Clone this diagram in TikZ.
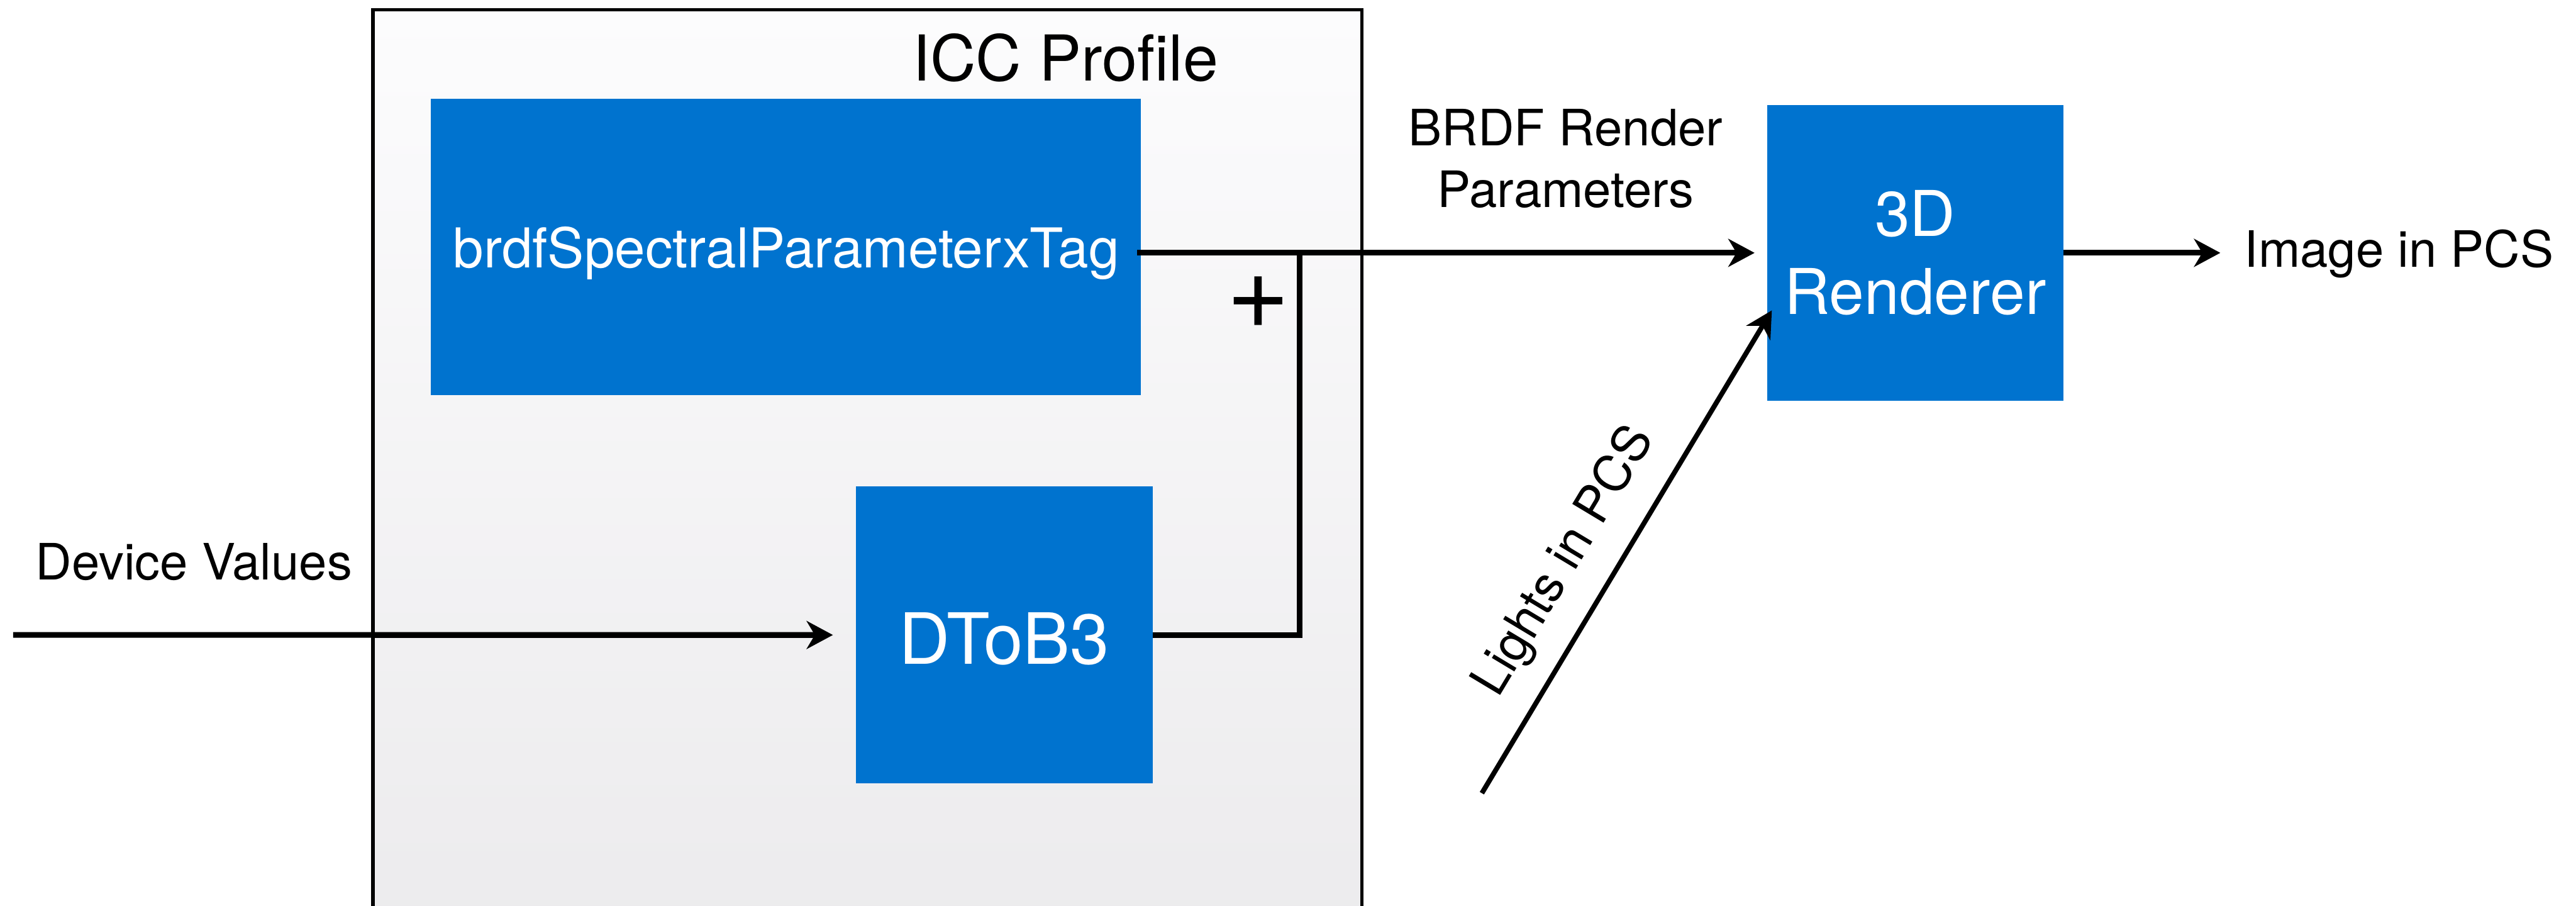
\documentclass[tikz,border=0pt]{standalone}
\usepackage{fontspec}
\setmainfont{TeX Gyre Heros}
\usetikzlibrary{arrows.meta,calc}
\definecolor{boxblue}{RGB}{0,115,207}
\definecolor{shadetop}{RGB}{252,252,253}
\definecolor{shadebot}{RGB}{235,234,236}
\begin{document}
\begin{tikzpicture}[x=1pt,y=-1pt,
  block/.style={fill=boxblue, draw=none, text=white, inner sep=0pt, outer sep=0pt, align=center},
  wire/.style={line width=3.5pt, line join=miter},
  flow/.style={wire, -{Stealth[length=16pt,width=17pt,inset=5pt]}},
  lbl/.style={font=\fontsize{30.5}{37.5}\selectfont, align=center, inner sep=0pt}
]
\useasboundingbox (0,0) rectangle (1568,551);
\clip (0,0) rectangle (1568,551);

% profile container
\node[draw, line width=2pt, top color=shadetop, bottom color=shadebot,
      minimum width=602, minimum height=594, inner sep=0pt, outer sep=0pt,
      anchor=north west] (icc) at (227,6) {};
\node[font=\fontsize{38.5}{46}\selectfont, anchor=base, inner sep=0pt] (icct) at (648.5,49) {ICC Profile};

% processing blocks
\node[block, minimum width=432.2, minimum height=180.4, anchor=north west,
      font=\fontsize{33.4}{40}\selectfont, text height=25.6pt, text depth=0pt] (brdf) at (262.4,60) {brdfSpectralParameterxTag};
\node[block, minimum width=180.7, minimum height=180.7, anchor=north west,
      font=\fontsize{43}{50}\selectfont, text height=35.4pt, text depth=0pt] (dtob) at (521,296) {DToB3};
\node[block, minimum width=180.5, minimum height=180.1, anchor=north west,
      font=\fontsize{38.4}{47.6}\selectfont] (ren) at (1075.5,63.8) {3D\\Renderer};

% labels
\node[lbl, anchor=base] (dvl) at (118,352.8) {Device Values};
\node[lbl] (brl) at (953,96.5) {BRDF Render\\Parameters};
\node[lbl, anchor=base west] (img) at (1366,162.5) {Image in PCS};
\node[font=\fontsize{66}{70}\selectfont, inner sep=0pt] (plus) at (766,184) {+};

% connectors
\coordinate (dvin) at (8,386.3);
\coordinate (jn) at (791,0);
\coordinate (lsrc) at (902,482.6);

\draw[flow, shorten >=14pt] (dvin) -- (dtob.west);
\draw[wire] (dtob.east) -| (jn |- ren.west);
\draw[flow, shorten <=-2.4pt, shorten >=7.5pt] (brdf.east |- ren.west) -- (ren.west);
\draw[flow, shorten >=14.5pt] (ren.east) -- (ren.east -| img.west);
\draw[line width=3pt, -{Stealth[length=16pt,width=17pt,inset=5pt]}]
  (lsrc) -- node[lbl, sloped, pos=0.428, anchor=south, inner sep=12.8pt] (lil) {Lights in PCS}
  ([xshift=3pt,yshift=-35pt]ren.west);
\end{tikzpicture}
\end{document}
